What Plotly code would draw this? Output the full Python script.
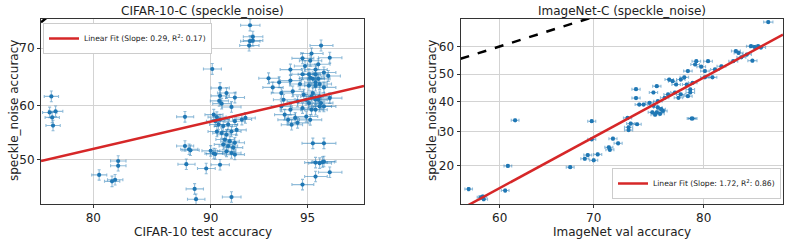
import math
from statistics import NormalDist
import plotly.graph_objects as go

# ---------------- data (accuracies in %) ----------------
CIFAR_TEST = [
    75.3, 75.1, 75.8, 75.4, 75.5, 80.6, 81.9, 82.2, 82.5, 82.5,
    88.2, 88.2, 88.5, 88.6, 88.3, 88.9, 89.0, 89.7, 90.0, 90.2,
    90.6, 91.3, 92.35, 92.5, 92.35, 92.3, 92.5, 90.1, 90.6, 91.0,
    91.5, 90.6, 90.55, 90.7, 91.3,
    90.2, 90.4, 90.6, 90.3, 90.5, 90.8, 91.1, 91.5, 91.9, 92.1,
    90.4, 90.7, 91.0, 91.3, 91.6, 90.9, 91.2, 91.5, 90.8, 91.1,
    91.4, 91.0, 91.3, 91.5, 90.3,
    94.8, 95.3, 95.8, 95.2, 95.6, 95.3, 95.45, 95.55, 95.6,
    95.5, 95.15, 94.8, 95.8, 95.1, 95.4, 94.9, 95.3, 95.6, 94.3,
    94.8, 95.1, 95.4, 95.75, 93.3, 93.8, 94.3, 94.7, 95.05, 95.3,
    95.6, 93.5, 93.9, 94.4, 94.85, 95.2, 95.45, 95.8, 94.0, 94.6,
    95.05, 95.4, 93.9, 94.3, 94.8, 95.15, 95.45, 94.05, 94.5, 94.95,
    94.2, 94.35, 95.1, 95.3, 95.6, 94.6,
    95.2, 95.3, 95.15, 95.5, 94.95, 95.3, 95.45, 95.05, 95.3,
]
CIFAR_C_SPECKLE = [
    61.7, 58.8, 59.0, 57.9, 56.4, 47.2, 46.0, 46.3, 49.8, 48.9,
    58.0, 52.6, 52.0, 51.8, 49.2, 44.6, 42.7, 48.4, 51.7, 51.2,
    49.1, 43.1, 73.6, 71.8, 71.1, 70.4, 71.2, 66.5, 63.2, 62.3,
    61.5, 61.8, 60.9, 60.4, 59.8,
    58.4, 57.95, 57.5, 57.2, 56.6, 56.3, 56.6, 57.2, 57.5, 57.8,
    55.3, 55.0, 54.7, 55.3, 55.6, 53.8, 53.5, 53.2, 52.9, 52.6,
    52.3, 51.6, 51.3, 51.0, 51.1,
    45.4, 46.9, 47.7, 53.1, 53.1, 49.5, 49.4, 49.6, 49.7,
    70.4, 69.1, 68.3, 68.4, 67.9, 67.3, 67.0, 66.4, 65.9, 66.4,
    65.6, 65.0, 64.8, 65.3, 64.9, 64.2, 64.5, 63.9, 63.6, 64.2,
    63.3, 63.3, 62.3, 62.6, 62.0, 62.3, 61.7, 61.4, 61.1, 60.8,
    60.5, 61.1, 59.9, 59.3, 59.6, 59.3, 59.9, 58.4, 57.8, 58.05,
    57.45, 56.55, 57.45, 59.3, 59.9, 56.9,
    64.8, 63.6, 61.7, 60.5, 61.1, 61.1, 63.9, 65.6, 65.6,
]

IMNET_VAL = [
    56.5, 58.1, 58.2, 57.9, 60.6, 60.9, 61.7, 67.6, 69.8, 69.8,
    69.1, 69.4, 70.4, 70.0, 71.9, 72.4, 71.5, 71.6,
    84.8, 83.6, 84.1, 84.3, 83.85, 82.5, 82.7, 82.9, 82.3, 83.3,
    83.7, 81.4, 80.9, 80.7, 80.1, 80.35, 79.4, 79.3, 79.8,
    78.7, 78.4, 78.6, 78.1, 77.1, 77.4, 77.7, 79.1, 78.9, 78.9,
    78.7, 78.1, 77.9, 77.6, 77.0, 76.7, 76.0, 75.7, 76.1, 75.35,
    74.8, 74.1, 74.1, 74.4, 79.1, 79.0,
    76.1, 76.4, 76.0, 76.55, 76.3, 75.85, 75.7, 75.6,
    73.3, 73.6, 74.2, 73.4, 73.4, 80.1,
]
IMNET_C_SPECKLE = [
    14.6, 13.1, 12.6, 12.95, 14.3, 20.0, 33.6, 19.7, 33.3, 27.5,
    21.9, 22.9, 23.1, 21.5, 27.7, 26.3, 25.1, 24.4,
    68.3, 60.1, 60.1, 59.6, 59.8, 58.35, 57.7, 56.1, 54.7, 57.1,
    54.9, 52.85, 51.7, 48.8, 51.1, 54.7, 54.7, 53.5, 52.7,
    51.1, 48.8, 46.2, 48.0, 48.0, 47.4, 46.2, 46.8, 44.4, 43.3,
    42.0, 42.6, 41.4, 43.3, 42.6, 41.4, 45.6, 43.3, 40.2, 39.6,
    39.0, 44.5, 41.3, 39.0, 34.2, 34.2,
    38.0, 37.4, 36.3, 36.8, 35.8, 35.5, 38.6, 36.3,
    34.4, 32.5, 32.3, 31.3, 30.4, 48.8,
]

CIFAR_N = 10000
IMNET_N = 50000

# linear fits in probit space (slope, intercept) and R^2
CIFAR_FIT = (0.29, -0.192, 0.17)
IMNET_FIT = (1.72, -1.480, 0.86)

# axis ranges (accuracy %)
CIFAR_XRANGE = (74.06, 96.83)
CIFAR_YRANGE = (41.82, 74.55)
IMNET_XRANGE = (55.57, 85.78)
IMNET_YRANGE = (11.7, 69.31)

CIFAR_XTICKS = [80, 90, 95]
CIFAR_YTICKS = [50, 60, 70]
IMNET_XTICKS = [60, 70, 80]
IMNET_YTICKS = [20, 30, 40, 50, 60]

# ---------------- helpers ----------------
ND = NormalDist()


def probit(pct):
    return ND.inv_cdf(pct / 100.0)


def ci_bars(vals, n):
    plus, minus = [], []
    for v in vals:
        p = v / 100.0
        h = 1.96 * math.sqrt(p * (1 - p) / n)
        z = ND.inv_cdf(p)
        plus.append(ND.inv_cdf(min(p + h, 0.9999)) - z)
        minus.append(z - ND.inv_cdf(max(p - h, 0.0001)))
    return plus, minus


BLUE = "#1f77b4"
ERR = "rgba(31,119,180,0.5)"
RED = "#d62728"
FONT = "DejaVu Sans"

fig = go.Figure()


def add_panel(xs, ys, n, fit, xr, yr, xa, ya, legend):
    px = [probit(v) for v in xs]
    py = [probit(v) for v in ys]
    xp, xm = ci_bars(xs, n)
    yp, ym = ci_bars(ys, n)
    fig.add_trace(go.Scatter(
        x=px, y=py, mode="markers", xaxis=xa, yaxis=ya, showlegend=False,
        marker=dict(color=BLUE, size=4.2),
        error_x=dict(type="data", array=xp, arrayminus=xm, color=ERR,
                     thickness=1.1, width=1.5),
        error_y=dict(type="data", array=yp, arrayminus=ym, color=ERR,
                     thickness=1.1, width=1.5),
    ))
    x0, x1 = probit(xr[0]), probit(xr[1])
    # y = x reference
    fig.add_trace(go.Scatter(
        x=[x0, x1], y=[x0, x1], mode="lines", xaxis=xa, yaxis=ya,
        showlegend=False, line=dict(color="black", width=2.5, dash="dash"),
    ))
    slope, icpt, r2 = fit
    fig.add_trace(go.Scatter(
        x=[x0, x1], y=[slope * x0 + icpt, slope * x1 + icpt], mode="lines",
        xaxis=xa, yaxis=ya, legend=legend,
        name=f"Linear Fit (Slope: {slope:.2f}, R<sup>2</sup>: {r2:.2f})",
        line=dict(color=RED, width=2.5),
    ))


add_panel(CIFAR_TEST, CIFAR_C_SPECKLE, CIFAR_N, CIFAR_FIT,
          CIFAR_XRANGE, CIFAR_YRANGE, "x", "y", "legend")
add_panel(IMNET_VAL, IMNET_C_SPECKLE, IMNET_N, IMNET_FIT,
          IMNET_XRANGE, IMNET_YRANGE, "x2", "y2", "legend2")

axis_common = dict(
    showline=True, mirror=True, linecolor="#333333", linewidth=1,
    ticks="outside", ticklen=3, tickcolor="#333333",
    showgrid=True, gridcolor="#d3d3d3", gridwidth=1, zeroline=False,
    tickfont=dict(family=FONT, size=12, color="#222222"),
    automargin=False,
)


def ax(rng, ticks, domain=None, anchor=None):
    d = dict(axis_common)
    d["range"] = [probit(rng[0]), probit(rng[1])]
    d["tickvals"] = [probit(t) for t in ticks]
    d["ticktext"] = [str(t) for t in ticks]
    if domain is not None:
        d["domain"] = domain
    if anchor is not None:
        d["anchor"] = anchor
    return d


W, H = 789, 242
ML, MR, MT, MB = 41, 6, 19, 38
PW = W - ML - MR
PH = H - MT - MB
left_dom = [0, (364 - ML) / PW]
right_dom = [(460.5 - ML) / PW, 1]


def pxx(p):
    return (p - ML) / PW


def pxy(p):
    return (H - MB - p) / PH


fig.update_layout(
    width=W, height=H,
    margin=dict(l=ML, r=MR, t=MT, b=MB),
    paper_bgcolor="white", plot_bgcolor="white",
    font=dict(family=FONT, size=12, color="#222222"),
    xaxis=ax(CIFAR_XRANGE, CIFAR_XTICKS, left_dom, "y"),
    yaxis=ax(CIFAR_YRANGE, CIFAR_YTICKS, None, "x"),
    xaxis2=ax(IMNET_XRANGE, IMNET_XTICKS, right_dom, "y2"),
    yaxis2=ax(IMNET_YRANGE, IMNET_YTICKS, None, "x2"),
    legend=dict(x=pxx(43), y=pxy(23), xanchor="left", yanchor="top",
                bgcolor="white", bordercolor="#cccccc", borderwidth=1,
                font=dict(family=FONT, size=7.6, color="#222222"),
                itemwidth=30, tracegroupgap=0),
    legend2=dict(x=pxx(781), y=pxy(199), xanchor="right", yanchor="bottom",
                 bgcolor="white", bordercolor="#cccccc", borderwidth=1,
                 font=dict(family=FONT, size=7.6, color="#222222"),
                 itemwidth=30, tracegroupgap=0),
    showlegend=True,
)

annos = [
    ("CIFAR-10-C (speckle_noise)", pxx((41 + 364) / 2), pxy(11.5), 0),
    ("ImageNet-C (speckle_noise)", pxx((460.5 + 783) / 2), pxy(11.5), 0),
    ("CIFAR-10 test accuracy", pxx((41 + 364) / 2), pxy(232), 0),
    ("ImageNet val accuracy", pxx((460.5 + 783) / 2), pxy(232), 0),
    ("speckle_noise accuracy", pxx(14), pxy(111), -90),
    ("speckle_noise accuracy", pxx(432), pxy(111), -90),
]
for text, x, y, ang in annos:
    fig.add_annotation(text=text, x=x, y=y, xref="paper", yref="paper",
                       xanchor="center", yanchor="middle", showarrow=False,
                       textangle=ang,
                       font=dict(family=FONT, size=12, color="#222222"))

fig.write_html("out.html",
               config={"displayModeBar": False},
               post_script="document.body.style.margin='0';"
                           "document.body.style.overflow='hidden';")
